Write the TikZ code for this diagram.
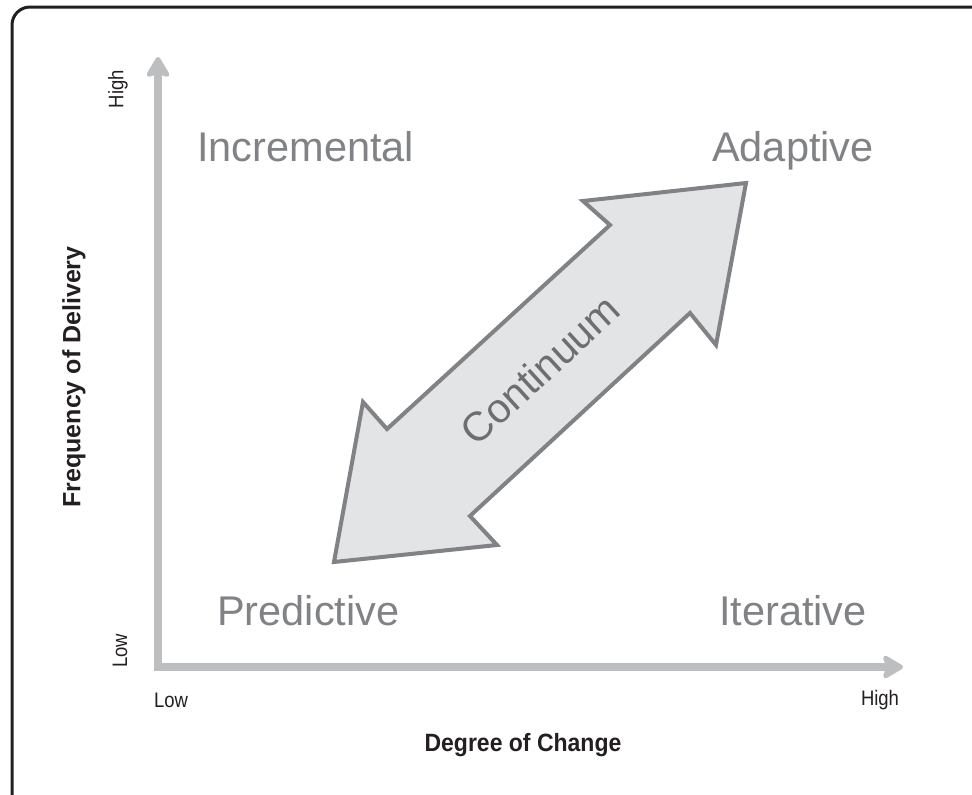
\documentclass[tikz,border=0pt]{standalone}
\usepackage{fontspec}
\setmainfont{Liberation Sans}
\newfontfamily\condfont[FakeStretch=0.92]{Liberation Sans}
\newfontfamily\tickfont[FakeStretch=0.88]{Liberation Sans}
\newfontfamily\freqfont{Liberation Sans}
\usetikzlibrary{arrows.meta}
\definecolor{framecol}{HTML}{231F20}
\definecolor{axiscol}{HTML}{BCBEC0}
\definecolor{labelcol}{HTML}{808285}
\definecolor{arrowfill}{HTML}{E3E4E5}
\definecolor{arrowedge}{HTML}{808285}
\definecolor{contcol}{HTML}{6D6E71}
\begin{document}
\begin{tikzpicture}[x=1pt,y=-1pt,
  quad/.style={font=\fontsize{41.5}{41.5}\selectfont, text=labelcol, inner sep=0pt, anchor=base west},
  ticklab/.style={font=\tickfont\fontsize{21}{21}\selectfont, text=framecol, inner sep=0pt},
  axislab/.style={font=\condfont\bfseries\fontsize{25}{25}\selectfont, text=framecol, inner sep=0pt},
  freqlab/.style={font=\freqfont\bfseries\fontsize{25}{25}\selectfont, text=framecol, inner sep=0pt},
  axisline/.style={draw=axiscol, line width=8pt, line join=miter,
    {Stealth[length=24pt,width=28pt,inset=5pt,round]}-{Stealth[length=24pt,width=28pt,inset=5pt,round]}},
  bigarrow/.style={draw=arrowedge, fill=arrowfill, line width=4pt, line join=miter},
  contlab/.style={font=\fontsize{41}{41}\selectfont, text=contcol, inner sep=0pt}
]
\useasboundingbox (0,0) rectangle (972,795);
\begin{scope}
  \clip (0,0) rectangle (972,795);
  \draw[framecol, line width=3pt, rounded corners=18pt] (12,7) rectangle (1000,812);
\end{scope}

% axes
\coordinate (ytip) at (158,57);
\coordinate (origin) at (158,667);
\coordinate (xtip) at (903,667);
\draw[axisline] (ytip) -- (origin) -- (xtip);

% tick labels
\node[ticklab, rotate=90] (yhigh) at (118,89) {High};
\node[ticklab, rotate=90] (ylow) at (120,651) {Low};
\node[ticklab] (xlow) at (171,700) {Low};
\node[ticklab] (xhigh) at (880,700) {High};

% axis titles
\node[freqlab, rotate=90] (ylab) at (74,377) {Frequency of Delivery};
\node[axislab] (xlab) at (523,745) {Degree of Change};

% quadrant labels
\node[quad] (inc) at (197,161) {Incremental};
\node[quad] (adp) at (712,161) {Adaptive};
\node[quad] (pred) at (217,625) {Predictive};
\node[quad] (iter) at (719,625) {Iterative};

% double arrow
\draw[bigarrow] (746,183) -- (716,345) -- (690,313) -- (470,516) -- (497,545) -- (334,562) -- (363,402) -- (387,429) -- (610,225) -- (583,201) -- cycle;
\node[contlab, rotate=42.5] (cont) at (540,370) {Continuum};
\end{tikzpicture}
\end{document}
